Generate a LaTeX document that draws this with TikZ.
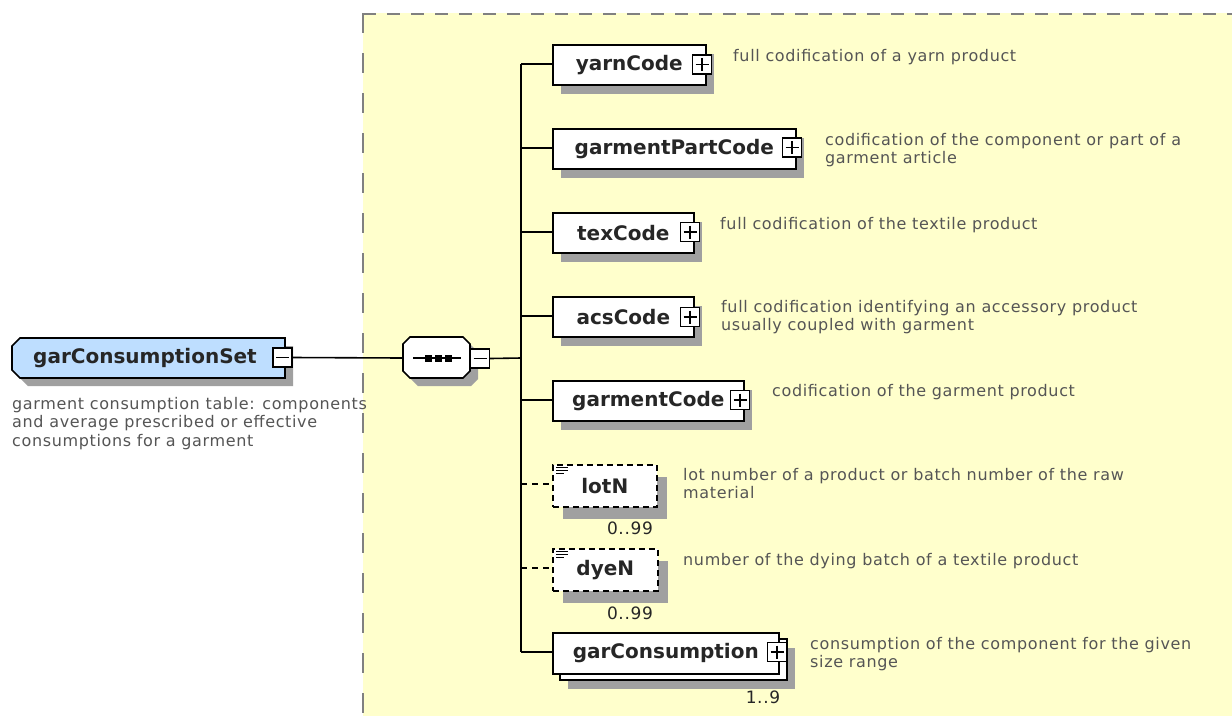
\documentclass[tikz,border=0pt]{standalone}
\usepackage{fontspec}
\setmainfont{DejaVu Sans}
\newfontfamily\descfont[LetterSpace=4]{DejaVu Sans}
\usetikzlibrary{shadows}
\definecolor{yel}{RGB}{255,255,204}
\definecolor{elblue}{RGB}{190,222,255}
\definecolor{shad}{RGB}{160,160,160}
\definecolor{desc}{RGB}{85,85,85}
\definecolor{dashg}{RGB}{128,128,128}
\tikzset{
  elembase/.style={draw=black, line width=1.6pt, fill=white, anchor=north west,
    minimum height=40pt, inner sep=0pt, font=\fontsize{20}{24}\selectfont\bfseries, text=black!85},
  elem/.style={elembase, drop shadow={shadow xshift=8pt, shadow yshift=-9pt, fill=shad, opacity=1}},
  optelem/.style={draw=black, line width=1.6pt, dash pattern=on 6pt off 4pt, fill=white, anchor=north west,
    minimum height=42pt, inner sep=0pt, font=\fontsize{20}{24}\selectfont\bfseries, text=black!85,
    drop shadow={shadow xshift=10pt, shadow yshift=-12pt, fill=shad, opacity=1}},
  plusbox/.style={draw=black, line width=1.3pt, fill=white, minimum size=19pt, inner sep=0pt,
    path picture={\draw[line width=1.3pt] ([xshift=3pt]path picture bounding box.west) -- ([xshift=-3pt]path picture bounding box.east);
      \draw[line width=1.3pt] ([yshift=-3pt]path picture bounding box.north) -- ([yshift=3pt]path picture bounding box.south);}},
  minusbox/.style={draw=black, line width=1.3pt, fill=white, minimum size=19pt, inner sep=0pt,
    path picture={\draw[line width=1.3pt] ([xshift=3pt]path picture bounding box.west) -- ([xshift=-3pt]path picture bounding box.east);}},
  desctext/.style={anchor=base west, inner sep=0pt, align=left, text=desc, font=\fontsize{16}{18.3}\descfont},
  cardtext/.style={anchor=center, inner sep=0pt, text=black!85, font=\fontsize{17}{19}\descfont},
  conn/.style={draw=black, line width=1.6pt},
  optconn/.style={draw=black, line width=1.6pt, dash pattern=on 6pt off 5pt},
}
\begin{document}
\begin{tikzpicture}[x=1pt,y=-1pt]
\useasboundingbox (0,0) rectangle (1232,716);
\fill[white] (0,0) rectangle (1232,716);
% yellow group area
\fill[yel] (363,13) rectangle (1232,716);
\draw[dashg, line width=2pt, dash pattern=on 13pt off 11pt] (363,13.5) -- (1232,13.5);
\draw[dashg, line width=2pt, dash pattern=on 20pt off 20pt] (363,13) -- (363,716);

% root element
\fill[shad] (28,346) -- (293,346) -- (293,386) -- (28,386) -- (20,378) -- (20,354) -- cycle;
\draw[line width=1.6pt, fill=elblue] (20,338) -- (285,338) -- (285,378) -- (20,378) -- (12,370) -- (12,346) -- cycle;
\node[inner sep=0pt, font=\fontsize{20}{24}\selectfont\bfseries, text=black!85] (root) at (145,358) {garConsumptionSet};
\node[minusbox] (rootm) at (282.5,357.5) {};
\node[desctext] (rootd) at (12,446) {garment consumption table: components\\and average prescribed or effective\\consumptions for a garment};

% sequence compositor
\fill[shad] (418,345) -- (471,345) -- (478,352) -- (478,379) -- (471,386) -- (418,386) -- (411,379) -- (411,352) -- cycle;
\draw[line width=1.6pt, fill=white] (410,337) -- (463,337) -- (470,344) -- (470,371) -- (463,378) -- (410,378) -- (403,371) -- (403,344) -- cycle;
\coordinate (seqw) at (403,358);
\draw[line width=1.3pt] (413,358) -- (461,358);
\fill (428,358) ++(-3.5,-3.5) rectangle ++(7,7);
\fill (438,358) ++(-3.5,-3.5) rectangle ++(7,7);
\fill (448,358) ++(-3.5,-3.5) rectangle ++(7,7);
\node[minusbox] (seqm) at (480,358.5) {};

% trunk
\coordinate (t1) at (521,64);
\coordinate (t2) at (521,148);
\coordinate (t3) at (521,232);
\coordinate (t4) at (521,316);
\coordinate (tseq) at (521,358);
\coordinate (t5) at (521,400);
\coordinate (t6) at (521,484);
\coordinate (t7) at (521,568);
\coordinate (t8) at (521,652);
\draw[conn] (t1) -- (t8);
\draw[conn] (rootm.east) -- (seqw);
\draw[conn] (seqm.east) -- (tseq);

% child elements
\node[elem, minimum width=153pt] (yarn) at (552,44) {yarnCode};
\node[plusbox] (yarnp) at (702,64.5) {};
\node[elem, minimum width=243pt] (gpc) at (552,128) {garmentPartCode};
\node[plusbox] (gpcp) at (792,147.5) {};
\node[elem, minimum width=141pt] (tex) at (552,212) {texCode};
\node[plusbox] (texp) at (690,232) {};
\node[elem, minimum width=141pt] (acs) at (552,296) {acsCode};
\node[plusbox] (acsp) at (690,317) {};
\node[elem, minimum width=191pt] (gc) at (552,380) {garmentCode};
\node[plusbox] (gcp) at (740,400) {};

\node[optelem, minimum width=104pt] (lot) at (552,464) {lotN};
\draw[line width=1pt] (556,467) -- (568,467) (556,470) -- (568,470) (556,473) -- (564,473);
\node[optelem, minimum width=105pt] (dye) at (552,548) {dyeN};
\draw[line width=1pt] (556,551) -- (568,551) (556,554) -- (568,554) (556,557) -- (564,557);

\node[elembase, minimum width=227pt, minimum height=41pt,
  drop shadow={shadow xshift=8pt, shadow yshift=-9pt, fill=shad, opacity=1}] (gcback) at (559,638) {};
\node[elembase, minimum width=226pt, minimum height=41pt] (gcons) at (552,632) {garConsumption};
\node[plusbox] (gconsp) at (777,652) {};

% connectors to children
\draw[conn] (t1) -- (yarn.west |- t1);
\draw[conn] (t2) -- (gpc.west |- t2);
\draw[conn] (t3) -- (tex.west |- t3);
\draw[conn] (t4) -- (acs.west |- t4);
\draw[conn] (t5) -- (gc.west |- t5);
\draw[optconn] (t6) -- (lot.west |- t6);
\draw[optconn] (t7) -- (dye.west |- t7);
\draw[conn] (t8) -- (gcons.west |- t8);

% cardinalities
\node[cardtext] (lotc) at (630,528) {0..99};
\node[cardtext] (dyec) at (630,613) {0..99};
\node[cardtext] (gconsc) at (763,697) {1..9};

% descriptions (base = baseline of last line)
\node[desctext] (yarnd) at (733,61) {full codification of a yarn product};
\node[desctext] (gpcd) at (825,163.3) {codification of the component or part of a\\garment article};
\node[desctext] (texd) at (720,229) {full codification of the textile product};
\node[desctext] (acsd) at (721,330.3) {full codification identifying an accessory product\\usually coupled with garment};
\node[desctext] (gcd) at (772,396) {codification of the garment product};
\node[desctext] (lotd) at (683,498.3) {lot number of a product or batch number of the raw\\material};
\node[desctext] (dyed) at (683,565) {number of the dying batch of a textile product};
\node[desctext] (gconsd) at (810,667.3) {consumption of the component for the given\\size range};
\end{tikzpicture}
\end{document}
